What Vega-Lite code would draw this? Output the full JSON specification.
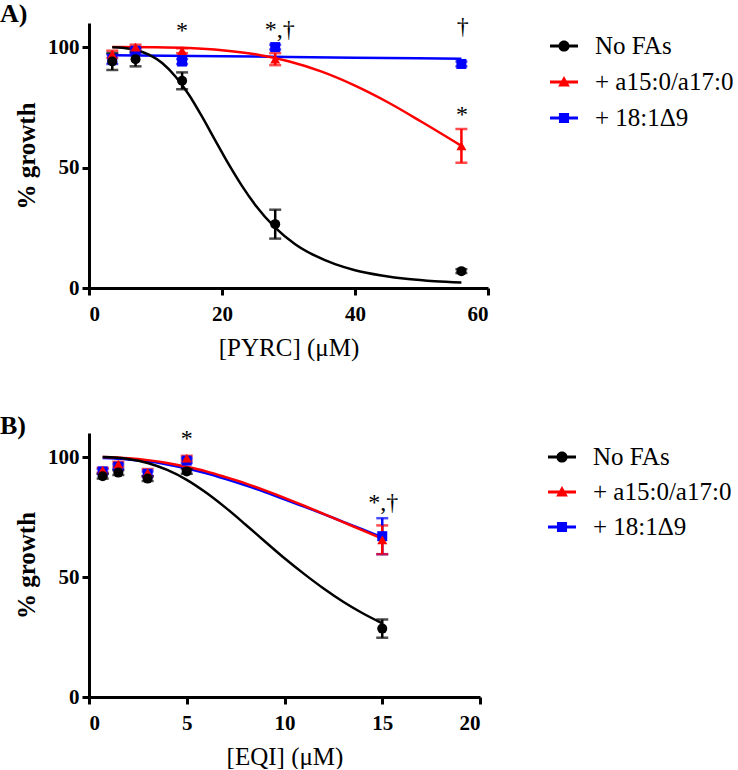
{
  "$schema": "https://vega.github.io/schema/vega-lite/v6.json",
  "padding": 0,
  "background": "white",
  "datasets": {
    "ptsA": [
      {"series": "+ 18:1Δ9", "x": 3.5, "y": 95, "err": 2},
      {"series": "+ 18:1Δ9", "x": 7, "y": 98.5, "err": 1},
      {"series": "+ 18:1Δ9", "x": 14, "y": 94, "err": 1},
      {"series": "+ 18:1Δ9", "x": 28, "y": 100, "err": 1},
      {"series": "+ 18:1Δ9", "x": 56, "y": 93, "err": 1},
      {"series": "+ a15:0/a17:0", "x": 3.5, "y": 97, "err": 1.5},
      {"series": "+ a15:0/a17:0", "x": 7, "y": 100, "err": 1},
      {"series": "+ a15:0/a17:0", "x": 14, "y": 98.5, "err": 1},
      {"series": "+ a15:0/a17:0", "x": 28, "y": 95, "err": 2.5},
      {"series": "+ a15:0/a17:0", "x": 56, "y": 59, "err": 7},
      {"series": "No FAs", "x": 3.5, "y": 94, "err": 3.5},
      {"series": "No FAs", "x": 7, "y": 95, "err": 3},
      {"series": "No FAs", "x": 14, "y": 86, "err": 3.5},
      {"series": "No FAs", "x": 28, "y": 26.5, "err": 6},
      {"series": "No FAs", "x": 56, "y": 7, "err": 0.8}
    ],
    "curveA": [
      {"series": "+ 18:1Δ9", "x": 3.5, "y": 96.6},
      {"series": "+ 18:1Δ9", "x": 20, "y": 96.2},
      {"series": "+ 18:1Δ9", "x": 40, "y": 95.6},
      {"series": "+ 18:1Δ9", "x": 56, "y": 95.2},
      {"series": "+ a15:0/a17:0", "x": 3.5, "y": 100},
      {"series": "+ a15:0/a17:0", "x": 10, "y": 99.9},
      {"series": "+ a15:0/a17:0", "x": 15, "y": 99.6},
      {"series": "+ a15:0/a17:0", "x": 20, "y": 98.7},
      {"series": "+ a15:0/a17:0", "x": 25, "y": 97.0},
      {"series": "+ a15:0/a17:0", "x": 30, "y": 94.1},
      {"series": "+ a15:0/a17:0", "x": 35, "y": 89.8},
      {"series": "+ a15:0/a17:0", "x": 40, "y": 84.0},
      {"series": "+ a15:0/a17:0", "x": 45, "y": 77.0},
      {"series": "+ a15:0/a17:0", "x": 50, "y": 69.0},
      {"series": "+ a15:0/a17:0", "x": 56, "y": 59.0},
      {"series": "No FAs", "x": 3.5, "y": 99.9},
      {"series": "No FAs", "x": 5, "y": 99.7},
      {"series": "No FAs", "x": 7, "y": 98.8},
      {"series": "No FAs", "x": 9, "y": 96.9},
      {"series": "No FAs", "x": 11, "y": 93.4},
      {"series": "No FAs", "x": 13, "y": 87.8},
      {"series": "No FAs", "x": 15, "y": 80.3},
      {"series": "No FAs", "x": 17, "y": 71.1},
      {"series": "No FAs", "x": 19, "y": 61.2},
      {"series": "No FAs", "x": 21, "y": 51.4},
      {"series": "No FAs", "x": 23, "y": 42.4},
      {"series": "No FAs", "x": 25, "y": 34.5},
      {"series": "No FAs", "x": 28, "y": 25.1},
      {"series": "No FAs", "x": 31, "y": 18.2},
      {"series": "No FAs", "x": 34, "y": 13.4},
      {"series": "No FAs", "x": 37, "y": 9.9},
      {"series": "No FAs", "x": 40, "y": 7.4},
      {"series": "No FAs", "x": 44, "y": 5.2},
      {"series": "No FAs", "x": 48, "y": 3.7},
      {"series": "No FAs", "x": 52, "y": 2.8},
      {"series": "No FAs", "x": 56, "y": 2.3}
    ],
    "annA": [
      {"x": 14, "y": 106.5, "label": "*"},
      {"x": 28.7, "y": 107, "label": "*,†"},
      {"x": 56.2, "y": 108.5, "label": "†"},
      {"x": 56.1, "y": 72, "label": "*"}
    ],
    "ptsB": [
      {"series": "+ 18:1Δ9", "x": 0.7, "y": 94, "err": 1},
      {"series": "+ 18:1Δ9", "x": 1.5, "y": 96, "err": 1},
      {"series": "+ 18:1Δ9", "x": 3, "y": 93, "err": 1},
      {"series": "+ 18:1Δ9", "x": 5, "y": 98.5, "err": 1},
      {"series": "+ 18:1Δ9", "x": 15, "y": 67, "err": 7.5},
      {"series": "+ a15:0/a17:0", "x": 0.7, "y": 94.5, "err": 1},
      {"series": "+ a15:0/a17:0", "x": 1.5, "y": 97, "err": 1},
      {"series": "+ a15:0/a17:0", "x": 3, "y": 93.5, "err": 1.5},
      {"series": "+ a15:0/a17:0", "x": 5, "y": 99.5, "err": 1},
      {"series": "+ a15:0/a17:0", "x": 15, "y": 65.5, "err": 6},
      {"series": "No FAs", "x": 0.7, "y": 92, "err": 1},
      {"series": "No FAs", "x": 1.5, "y": 93.5, "err": 1},
      {"series": "No FAs", "x": 3, "y": 91, "err": 1},
      {"series": "No FAs", "x": 5, "y": 94, "err": 1},
      {"series": "No FAs", "x": 15, "y": 28.5, "err": 3.8}
    ],
    "curveB": [
      {"series": "+ 18:1Δ9", "x": 0.7, "y": 99.6},
      {"series": "+ 18:1Δ9", "x": 2, "y": 99.0},
      {"series": "+ 18:1Δ9", "x": 3, "y": 98.2},
      {"series": "+ 18:1Δ9", "x": 4, "y": 96.9},
      {"series": "+ 18:1Δ9", "x": 5, "y": 95.2},
      {"series": "+ 18:1Δ9", "x": 6, "y": 93.2},
      {"series": "+ 18:1Δ9", "x": 7, "y": 90.8},
      {"series": "+ 18:1Δ9", "x": 8, "y": 88.2},
      {"series": "+ 18:1Δ9", "x": 9, "y": 85.4},
      {"series": "+ 18:1Δ9", "x": 10, "y": 82.4},
      {"series": "+ 18:1Δ9", "x": 11, "y": 79.3},
      {"series": "+ 18:1Δ9", "x": 12, "y": 76.2},
      {"series": "+ 18:1Δ9", "x": 13, "y": 73.0},
      {"series": "+ 18:1Δ9", "x": 14, "y": 69.8},
      {"series": "+ 18:1Δ9", "x": 15, "y": 66.6},
      {"series": "+ a15:0/a17:0", "x": 0.7, "y": 100},
      {"series": "+ a15:0/a17:0", "x": 2, "y": 99.5},
      {"series": "+ a15:0/a17:0", "x": 3, "y": 98.7},
      {"series": "+ a15:0/a17:0", "x": 4, "y": 97.5},
      {"series": "+ a15:0/a17:0", "x": 5, "y": 95.9},
      {"series": "+ a15:0/a17:0", "x": 6, "y": 94.0},
      {"series": "+ a15:0/a17:0", "x": 7, "y": 91.6},
      {"series": "+ a15:0/a17:0", "x": 8, "y": 89.0},
      {"series": "+ a15:0/a17:0", "x": 9, "y": 86.1},
      {"series": "+ a15:0/a17:0", "x": 10, "y": 83.0},
      {"series": "+ a15:0/a17:0", "x": 11, "y": 79.7},
      {"series": "+ a15:0/a17:0", "x": 12, "y": 76.3},
      {"series": "+ a15:0/a17:0", "x": 13, "y": 72.9},
      {"series": "+ a15:0/a17:0", "x": 14, "y": 69.4},
      {"series": "+ a15:0/a17:0", "x": 15, "y": 66.0},
      {"series": "No FAs", "x": 0.7, "y": 100},
      {"series": "No FAs", "x": 2, "y": 99.2},
      {"series": "No FAs", "x": 3, "y": 97.5},
      {"series": "No FAs", "x": 4, "y": 94.6},
      {"series": "No FAs", "x": 5, "y": 90.5},
      {"series": "No FAs", "x": 6, "y": 85.1},
      {"series": "No FAs", "x": 7, "y": 78.8},
      {"series": "No FAs", "x": 8, "y": 71.9},
      {"series": "No FAs", "x": 9, "y": 64.8},
      {"series": "No FAs", "x": 10, "y": 57.8},
      {"series": "No FAs", "x": 11, "y": 51.3},
      {"series": "No FAs", "x": 12, "y": 45.2},
      {"series": "No FAs", "x": 13, "y": 39.7},
      {"series": "No FAs", "x": 14, "y": 34.9},
      {"series": "No FAs", "x": 15, "y": 30.7}
    ],
    "annB": [
      {"x": 5, "y": 107.6, "label": "*"},
      {"x": 15.05, "y": 81, "label": "*,†"}
    ]
  },
  "vconcat": [
    {
      "width": 399,
      "height": 265,
      "title": {"text": "A)", "anchor": "start", "frame": "group", "dx": -89, "offset": -12},
      "encoding": {
        "x": {"field": "x", "type": "quantitative", "scale": {"domain": [0, 60], "nice": false, "zero": false}, "axis": {"values": [0, 20, 40, 60], "title": "[PYRC] (μM)"}},
        "y": {"field": "y", "type": "quantitative", "scale": {"domain": [0, 110], "nice": false}, "axis": {"values": [0, 50, 100], "title": "% growth"}}
      },
      "layer": [
        {
          "data": {"name": "curveA"},
          "mark": {"type": "line", "strokeWidth": 2.5, "interpolate": "monotone"},
          "encoding": {"color": {"field": "series", "type": "nominal", "scale": {"domain": ["No FAs", "+ a15:0/a17:0", "+ 18:1Δ9"], "range": ["#000000", "#ff0000", "#0000ff"]}, "legend": null}}
        },
        {
          "data": {"name": "ptsA"},
          "mark": {"type": "errorbar", "ticks": {"size": 12}, "thickness": 2.5},
          "encoding": {
            "yError": {"field": "err"},
            "color": {"field": "series", "type": "nominal", "scale": {"domain": ["No FAs", "+ a15:0/a17:0", "+ 18:1Δ9"], "range": ["#000000", "#ff0000", "#0000ff"]}, "legend": null}
          }
        },
        {
          "data": {"name": "ptsA"},
          "mark": {"type": "point", "filled": true, "opacity": 1, "size": 100},
          "encoding": {
            "color": {"field": "series", "type": "nominal", "scale": {"domain": ["No FAs", "+ a15:0/a17:0", "+ 18:1Δ9"], "range": ["#000000", "#ff0000", "#0000ff"]}, "legend": null},
            "shape": {"field": "series", "type": "nominal", "scale": {"domain": ["No FAs", "+ a15:0/a17:0", "+ 18:1Δ9"], "range": ["circle", "triangle-up", "square"]}, "legend": null}
          }
        },
        {
          "data": {"name": "annA"},
          "mark": {"type": "text", "font": "Liberation Serif", "fontSize": 24, "baseline": "middle", "align": "center", "color": "black"},
          "encoding": {"text": {"field": "label"}}
        },
        {
          "data": {"name": "ptsA"},
          "transform": [{"filter": "datum.x < 0"}],
          "mark": {"type": "point", "filled": true, "opacity": 1},
          "encoding": {
            "color": {"field": "series", "type": "nominal", "scale": {"domain": ["No FAs", "+ a15:0/a17:0", "+ 18:1Δ9"], "range": ["#000000", "#ff0000", "#0000ff"]},
              "legend": {"orient": "none", "legendX": 460, "legendY": 8, "title": null, "symbolSize": 784, "labelFont": "Liberation Serif", "labelFontSize": 25, "labelColor": "black", "labelOffset": 16, "rowPadding": 8, "padding": 0, "labelLimit": 400}},
            "shape": {"field": "series", "type": "nominal", "scale": {"domain": ["No FAs", "+ a15:0/a17:0", "+ 18:1Δ9"], "range": [
              "M-1,-0.1L1,-0.1L1,0.1L-1,0.1Z M0.4,0A0.4,0.4 0 1 1 -0.4,0A0.4,0.4 0 1 1 0.4,0Z",
              "M-1,-0.1L1,-0.1L1,0.1L-1,0.1Z M0,-0.42L0.42,0.32L-0.42,0.32Z",
              "M-1,-0.1L1,-0.1L1,0.1L-1,0.1Z M-0.36,-0.36L0.36,-0.36L0.36,0.36L-0.36,0.36Z"]},
              "legend": {"orient": "none", "legendX": 460, "legendY": 8, "title": null, "symbolSize": 784, "labelFont": "Liberation Serif", "labelFontSize": 25, "labelColor": "black", "labelOffset": 16, "rowPadding": 8, "padding": 0, "labelLimit": 400}}
          }
        }
      ],
      "resolve": {"scale": {"color": "independent", "shape": "independent"}}
    },
    {
      "width": 391,
      "height": 264,
      "title": {"text": "B)", "anchor": "start", "frame": "group", "dx": -89, "offset": -12},
      "encoding": {
        "x": {"field": "x", "type": "quantitative", "scale": {"domain": [0, 20], "nice": false, "zero": false}, "axis": {"values": [0, 5, 10, 15, 20], "title": "[EQI] (μM)"}},
        "y": {"field": "y", "type": "quantitative", "scale": {"domain": [0, 110], "nice": false}, "axis": {"values": [0, 50, 100], "title": "% growth"}}
      },
      "layer": [
        {
          "data": {"name": "curveB"},
          "mark": {"type": "line", "strokeWidth": 2.5, "interpolate": "monotone"},
          "encoding": {"color": {"field": "series", "type": "nominal", "scale": {"domain": ["No FAs", "+ a15:0/a17:0", "+ 18:1Δ9"], "range": ["#000000", "#ff0000", "#0000ff"]}, "legend": null}}
        },
        {
          "data": {"name": "ptsB"},
          "mark": {"type": "errorbar", "ticks": {"size": 12}, "thickness": 2.5},
          "encoding": {
            "yError": {"field": "err"},
            "color": {"field": "series", "type": "nominal", "scale": {"domain": ["No FAs", "+ a15:0/a17:0", "+ 18:1Δ9"], "range": ["#000000", "#ff0000", "#0000ff"]}, "legend": null}
          }
        },
        {
          "data": {"name": "ptsB"},
          "mark": {"type": "point", "filled": true, "opacity": 1, "size": 100},
          "encoding": {
            "color": {"field": "series", "type": "nominal", "scale": {"domain": ["No FAs", "+ a15:0/a17:0", "+ 18:1Δ9"], "range": ["#000000", "#ff0000", "#0000ff"]}, "legend": null},
            "shape": {"field": "series", "type": "nominal", "scale": {"domain": ["No FAs", "+ a15:0/a17:0", "+ 18:1Δ9"], "range": ["circle", "triangle-up", "square"]}, "legend": null}
          }
        },
        {
          "data": {"name": "annB"},
          "mark": {"type": "text", "font": "Liberation Serif", "fontSize": 24, "baseline": "middle", "align": "center", "color": "black"},
          "encoding": {"text": {"field": "label"}}
        },
        {
          "data": {"name": "ptsB"},
          "transform": [{"filter": "datum.x < 0"}],
          "mark": {"type": "point", "filled": true, "opacity": 1},
          "encoding": {
            "color": {"field": "series", "type": "nominal", "scale": {"domain": ["No FAs", "+ a15:0/a17:0", "+ 18:1Δ9"], "range": ["#000000", "#ff0000", "#0000ff"]},
              "legend": {"orient": "none", "legendX": 458, "legendY": 9, "title": null, "symbolSize": 784, "labelFont": "Liberation Serif", "labelFontSize": 25, "labelColor": "black", "labelOffset": 16, "rowPadding": 7, "padding": 0, "labelLimit": 400}},
            "shape": {"field": "series", "type": "nominal", "scale": {"domain": ["No FAs", "+ a15:0/a17:0", "+ 18:1Δ9"], "range": [
              "M-1,-0.1L1,-0.1L1,0.1L-1,0.1Z M0.4,0A0.4,0.4 0 1 1 -0.4,0A0.4,0.4 0 1 1 0.4,0Z",
              "M-1,-0.1L1,-0.1L1,0.1L-1,0.1Z M0,-0.42L0.42,0.32L-0.42,0.32Z",
              "M-1,-0.1L1,-0.1L1,0.1L-1,0.1Z M-0.36,-0.36L0.36,-0.36L0.36,0.36L-0.36,0.36Z"]},
              "legend": {"orient": "none", "legendX": 458, "legendY": 9, "title": null, "symbolSize": 784, "labelFont": "Liberation Serif", "labelFontSize": 25, "labelColor": "black", "labelOffset": 16, "rowPadding": 7, "padding": 0, "labelLimit": 400}}
          }
        }
      ],
      "resolve": {"scale": {"color": "independent", "shape": "independent"}}
    }
  ],
  "spacing": 52,
  "resolve": {"scale": {"color": "independent", "shape": "independent"}},
  "config": {
    "view": {"stroke": null},
    "title": {"font": "Liberation Serif", "fontSize": 26, "fontWeight": "bold", "color": "black"},
    "axis": {
      "domainColor": "black", "domainWidth": 3, "tickColor": "black", "tickWidth": 3, "tickSize": 7, "grid": false,
      "labelFont": "Liberation Serif", "labelFontSize": 21, "labelFontWeight": "bold", "labelColor": "black",
      "titleFont": "Liberation Serif", "titleFontSize": 25, "titleColor": "black"
    },
    "axisX": {"titleFontWeight": "normal", "labelPadding": 8, "titlePadding": 11},
    "axisY": {"titleFontWeight": "bold", "labelPadding": 3, "titlePadding": 8}
  }
}
